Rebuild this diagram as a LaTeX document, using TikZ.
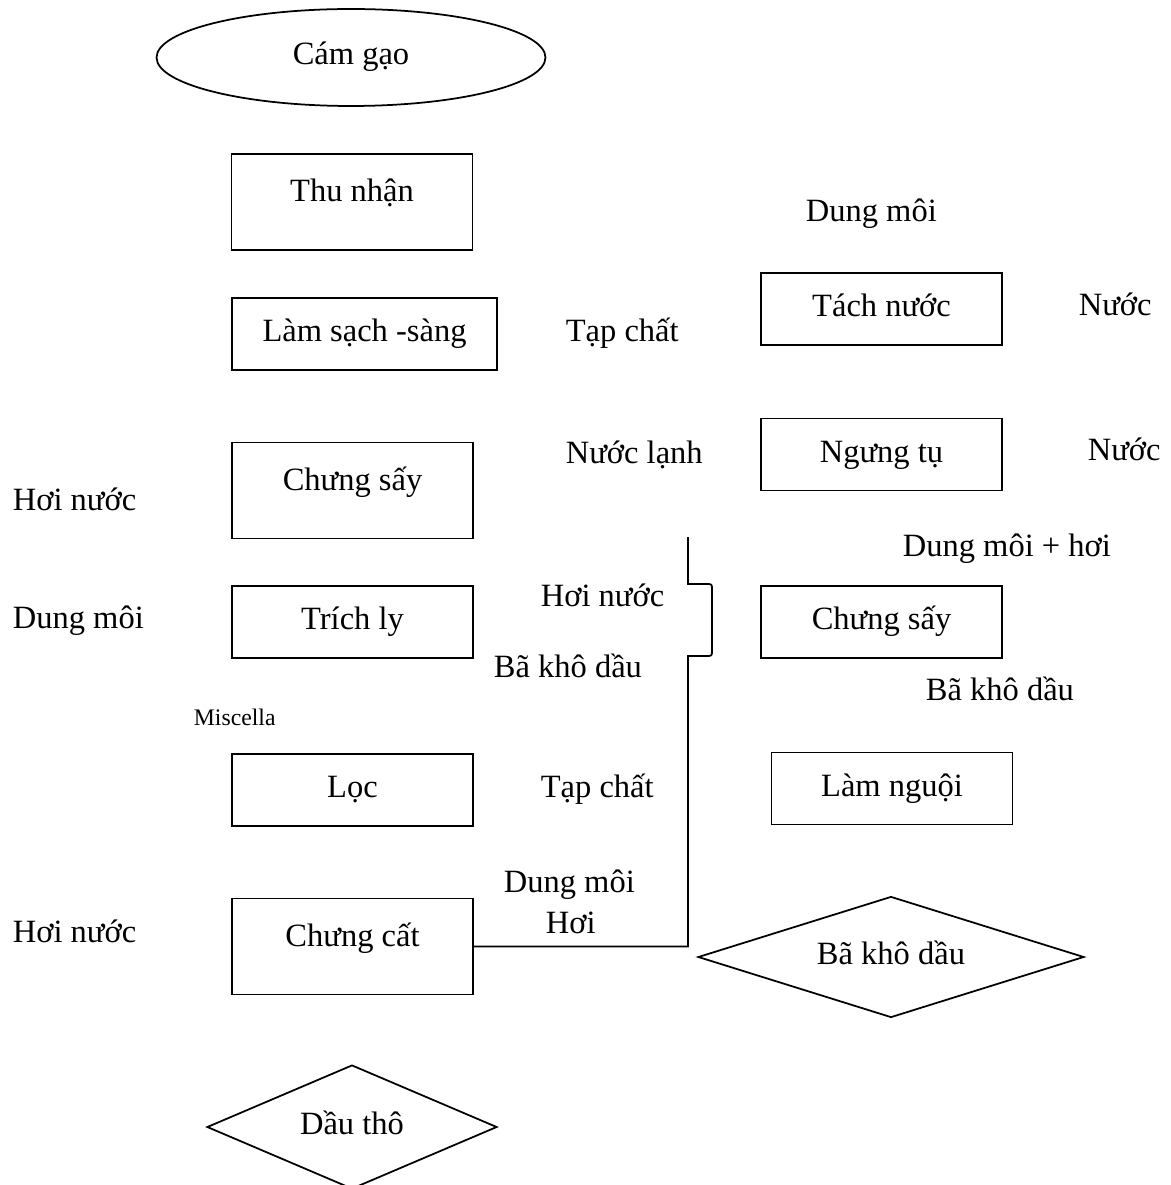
\documentclass[tikz,border=0pt]{standalone}
\usepackage{fontspec}
\setmainfont{Liberation Serif}
\usepackage{tikz}
\usetikzlibrary{shapes}
\newcommand{\sidetext}[4]{ \node[side] (#1) at ( #2 , #3 ) {#4};}

\begin{document}
\begin{tikzpicture}[x=0.02cm, y=-0.02cm, line width=1pt,
    every node/.style={font=\fontsize{18.5}{22}\selectfont},
    box/.style={draw, inner sep=0pt, minimum width=4.82cm, minimum height=1.44cm,
        text height=0.45cm, text depth=0.15cm},
    tallbox/.style={box, minimum height=1.92cm, text depth=0.45cm},
    side/.style={anchor=base west, inner sep=0pt}]
        \useasboundingbox (0,0) rectangle (1170,1185);

        % left column
        \node[draw, ellipse, inner sep=0pt, minimum width=7.78cm, minimum height=1.94cm,
            text height=0.45cm, text depth=0.15cm] (camgao) at (351,57.5) {Cám gạo};
        \node[tallbox] (thunhan) at (352,202) {Thu nhận};
        \node[box, minimum width=5.3cm] (lamsach) at (364.5,334) {Làm sạch -sàng};
        \node[tallbox] (chungsay) at (352.5,490.5) {Chưng sấy};
        \node[box] (trichly) at (352.5,622) {Trích ly};
        \node[box] (loc) at (352.5,790) {Lọc};
        \node[tallbox] (chungcat) at (352.5,946.5) {Chưng cất};
        \node[draw, diamond, aspect=2.3, inner sep=0pt, minimum width=5.8cm, minimum height=2.48cm,
            text height=0.45cm, text depth=0.15cm] (dautho) at (352,1127) {Dầu thô};

        % right column
        \node[box] (tachnuoc) at (881.5,309) {Tách nước};
        \node[box] (ngungtu) at (881.5,454.5) {Ngưng tụ};
        \node[box] (saylai) at (881.5,622) {Chưng sấy};
        \node[box] (lamnguoi) at (892,788.5) {Làm nguội};
        \node[draw, diamond, aspect=3.2, inner sep=0pt, minimum width=7.72cm, minimum height=2.42cm,
            text height=0.45cm, text depth=0.15cm] (bakhodau) at (891,957) {Bã khô dầu};

        % side texts
        \sidetext{hoinuoca}{12}{510}{Hơi nước}
        \sidetext{dungmoia}{12}{628}{Dung môi}
        \sidetext{hoinuocc}{12}{942}{Hơi nước}
        \node[side, font=\fontsize{13.5}{16}\selectfont] (miscella) at (193,725) {Miscella};

        \sidetext{tapchata}{565}{341}{Tạp chất}
        \sidetext{nuoclanh}{565}{463}{Nước lạnh}
        \sidetext{hoinuocb}{540}{606}{Hơi nước}
        \sidetext{bakhoa}{493}{677}{Bã khô dầu}
        \sidetext{tapchatb}{540}{797}{Tạp chất}
        \sidetext{dungmoib}{503}{892}{Dung môi}
        \sidetext{hoi}{545}{933}{Hơi}

        \sidetext{dungmoic}{805}{222}{Dung môi}
        \sidetext{nuoca}{1078}{316}{Nước}
        \sidetext{nuocb}{1087}{460}{Nước}
        \sidetext{dmhoi}{902}{556}{Dung môi + hơi}
        \sidetext{bakhob}{925}{700}{Bã khô dầu}

        % line with brace
        \coordinate (linetop) at (688,537);
        \draw (chungcat.east) -| (688,656) -- (706,656) .. controls (712,656) .. (712,650)
            -- (712,590) .. controls (712,584) .. (706,584) -- (688,584) -- (linetop);
    \end{tikzpicture}
\end{document}
